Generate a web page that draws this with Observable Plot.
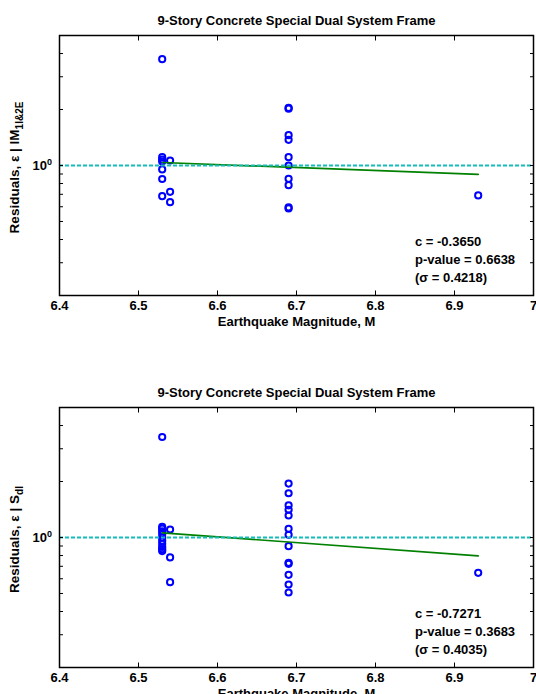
<!DOCTYPE html>
<html><head><meta charset="utf-8">
<script src="https://cdn.jsdelivr.net/npm/d3@7"></script>
<script src="https://cdn.jsdelivr.net/npm/@observablehq/plot@0.6"></script>
<style>
html,body{margin:0;padding:0;background:#fff;}
#chart svg{display:block;}
</style></head><body><div id="chart"></div>
<script>
const title = "9-Story Concrete Special Dual System Frame";
const xLabel = "Earthquake Magnitude, M";
const xTicks = [6.4, 6.5, 6.6, 6.7, 6.8, 6.9, 7];
const xTickLabels = ["6.4", "6.5", "6.6", "6.7", "6.8", "6.9", "7"];
const yTicks = [0.2, 0.3, 0.4, 0.5, 0.6, 0.7, 0.8, 0.9, 1, 2, 3, 4, 5];
const yTickLabelValues = [1];
const yTickLabelBase = "10";
const yTickLabelExp = "0";

// Panel 1: residuals given IM_1I&2E
const mag1 = [6.53, 6.53, 6.53, 6.53, 6.53, 6.53, 6.53,
              6.54, 6.54, 6.54,
              6.69, 6.69, 6.69, 6.69, 6.69, 6.69, 6.69, 6.69, 6.69, 6.69,
              6.93];
const res1 = [3.73, 1.108, 1.077, 1.051, 0.952, 0.846, 0.684,
              1.064, 0.722, 0.635,
              2.04, 2.02, 1.455, 1.375, 1.108, 1.0, 0.848, 0.784, 0.595, 0.588,
              0.69];
const fitX = [6.53, 6.93];
const fit1 = [1.038, 0.895];
const stats1 = ["c = -0.3650", "p-value = 0.6638", "(\u03c3 = 0.4218)"];
const yLabel1 = "Residuals, \u03b5 | IM";
const yLabelSub1 = "1I&2E";

// Panel 2: residuals given S_dI
const mag2 = [6.53, 6.53, 6.53, 6.53, 6.53, 6.53, 6.53, 6.53, 6.53, 6.53, 6.53,
              6.54, 6.54, 6.54,
              6.69, 6.69, 6.69, 6.69, 6.69, 6.69, 6.69, 6.69, 6.69, 6.69, 6.69, 6.69, 6.69,
              6.93];
const res2 = [3.47, 1.14, 1.115, 1.08, 1.045, 1.0, 0.96, 0.925, 0.89, 0.865, 0.845,
              1.104, 0.781, 0.575,
              1.95, 1.73, 1.49, 1.41, 1.313, 1.114, 1.034, 0.898, 0.731, 0.722, 0.63, 0.559, 0.506,
              0.646];
const fit2 = [1.06, 0.797];
const stats2 = ["c = -0.7271", "p-value = 0.3683", "(\u03c3 = 0.4035)"];
const yLabel2 = "Residuals, \u03b5 | S";
const yLabelSub2 = "dI";

const xLabelMap = new Map(xTicks.map((t, i) => [t, xTickLabels[i]]));
const SVGNS = "http://www.w3.org/2000/svg";

function panel(mags, res, fitY, stats, yLabelMain, yLabelSub) {
  const pts = mags.map((m, i) => ({m, r: res[i]}));
  const fit = fitX.map((m, i) => ({m, r: fitY[i]}));
  const svg = Plot.plot({
    width: 536, height: 372,
    marginTop: 35, marginBottom: 77, marginLeft: 59, marginRight: 3,
    style: {fontFamily: "'Liberation Sans', Arial, sans-serif", fontSize: "13px", fontWeight: "bold", color: "#000", background: "#fff"},
    x: {domain: [6.4, 7]},
    y: {type: "log", domain: [0.2, 5]},
    marks: [
      Plot.dot(pts, {x: "m", y: "r", r: 3.1, stroke: "#0000ff", strokeWidth: 2, fill: "none"}),
      Plot.line(fit, {x: "m", y: "r", stroke: "#008000", strokeWidth: 1.7}),
      Plot.ruleY([1], {stroke: "#14bcbc", strokeWidth: 1.8, strokeDasharray: "4,2"}),
      Plot.frame({stroke: "#000", strokeWidth: 1.5}),
      Plot.axisX(xTicks, {anchor: "bottom", tickSize: -4.5, tickPadding: 10, tickFormat: d => xLabelMap.get(d), label: null}),
      Plot.axisX(xTicks, {anchor: "top", tickSize: -4.5, tickFormat: () => "", label: null}),
      Plot.axisY(yTicks, {anchor: "left", tickSize: -4, tickFormat: () => "", label: null}),
      Plot.axisY(yTicks, {anchor: "right", tickSize: -4, tickFormat: () => "", label: null}),
      Plot.axisY(yTickLabelValues, {anchor: "left", tickSize: 0, tickPadding: 7.5, tickFormat: () => yTickLabelBase, label: null}),
      Plot.text([title], {frameAnchor: "top", dy: -14.5, lineAnchor: "middle"}),
      Plot.text([xLabel], {frameAnchor: "bottom", dy: 26, lineAnchor: "middle"}),
      Plot.text([yLabelMain], {frameAnchor: "left", dx: -44.5, dy: 2, rotate: -90, textAnchor: "middle", lineAnchor: "middle", fontSize: 13.5}),
      Plot.text([stats.join("\n")], {x: 6.85, frameAnchor: "bottom", dy: -37.5, textAnchor: "start", lineAnchor: "middle", lineHeight: 1.38})
    ]
  });
  svg.querySelectorAll("text").forEach(t => {
    if (t.textContent === yTickLabelBase) {
      const ts = document.createElementNS(SVGNS, "tspan");
      ts.setAttribute("dy", "-5");
      ts.setAttribute("font-size", "9");
      ts.textContent = yTickLabelExp;
      t.appendChild(ts);
    } else if (t.textContent === yLabelMain) {
      const ts = document.createElementNS(SVGNS, "tspan");
      ts.setAttribute("dy", "4");
      ts.setAttribute("font-size", "10");
      ts.textContent = yLabelSub;
      t.appendChild(ts);
    }
  });
  return svg;
}

const root = document.getElementById("chart");
root.appendChild(panel(mag1, res1, fit1, stats1, yLabel1, yLabelSub1));
root.appendChild(panel(mag2, res2, fit2, stats2, yLabel2, yLabelSub2));
</script>
</body></html>
